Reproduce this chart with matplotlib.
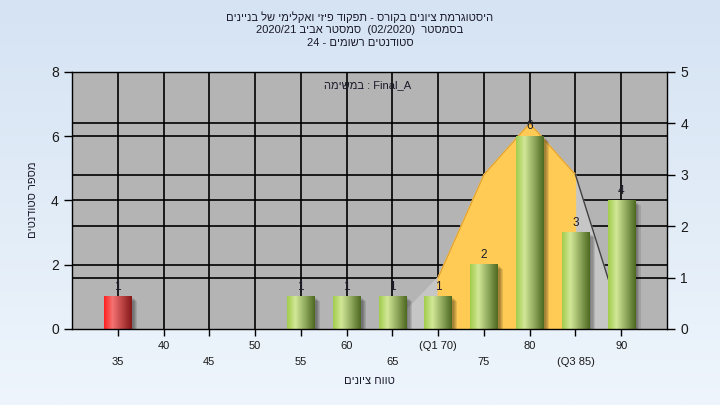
import re
import numpy as np
import matplotlib
matplotlib.use('Agg')
import matplotlib.pyplot as plt
from matplotlib.colors import LinearSegmentedColormap
from matplotlib.patches import Rectangle

# עברית - DejaVu/Liberation כוללים אותיות עבריות
plt.rcParams['font.family'] = ['Liberation Sans', 'DejaVu Sans']

# נתונים
grades = [35, 40, 45, 50, 55, 60, 65, 70, 75, 80, 85, 90]
tick_labels = ['35', '40', '45', '50', '55', '60', '65', '(Q1 70)', '75', '80', '(Q3 85)', '90']
counts = [1, 0, 0, 0, 1, 1, 1, 1, 2, 6, 3, 4]
failed = [True] + [False] * 11

# עקומת ההתפלגות (ציר ימני)
curve_x = [64.6, 70, 75, 80, 85, 90.3]
curve_y = [0, 1, 3, 4, 3, 0]
q1, q3 = 70, 85

left_max, right_max = 8, 5

title_lines = [
    'היסטוגרמת ציונים בקורס - תפקוד פיזי ואקלימי של בניינים',
    'בסמסטר  (02/2020)  סמסטר אביב 2020/21',
    'סטודנטים רשומים - 24',
]
task_label = 'Final_A : במשימה'
x_title = 'טווח ציונים'
y_title = 'מספר סטודנטים'


def rtl(s):
    # סידור ויזואלי פשוט לטקסט מימין לשמאל
    tokens = re.findall(r'[\u0590-\u05FF]+|[A-Za-z0-9_/.]+|.', s)
    mirror = {'(': ')', ')': '('}
    out = []
    for t in reversed(tokens):
        if re.match(r'[\u0590-\u05FF]', t):
            out.append(t[::-1])
        else:
            out.append(mirror.get(t, t))
    return ''.join(out)


fig = plt.figure(figsize=(7.2, 4.05), dpi=100)

# רקע מדורג
bg = fig.add_axes([0, 0, 1, 1], zorder=-10)
grad = np.linspace(0, 1, 256).reshape(-1, 1)
bg_cmap = LinearSegmentedColormap.from_list('bg', ['#d5e3f3', '#eef5fc'])
bg.imshow(grad, aspect='auto', cmap=bg_cmap, extent=[0, 1, 0, 1])
bg.axis('off')

ax = fig.add_axes([0.1, 0.1877, 0.8264, 0.6346])
ax.set_facecolor('#b4b4b4')
ax.set_xlim(30, 95)
ax.set_ylim(0, left_max)

ratio = left_max / right_max

# קווי רשת
for g in grades:
    ax.axvline(g, color='black', lw=1.2, zorder=0.5)
for v in [2, 4, 6]:
    ax.axhline(v, color='black', lw=1.2, zorder=0.5)
for v in [1, 2, 3, 4]:
    ax.axhline(v * ratio, color='black', lw=1.2, zorder=0.5)

# עקומה + אזור בין הרבעונים
cy = [v * ratio for v in curve_y]
ax.fill(curve_x + [curve_x[-1]], cy + [0], color='#c6c6c6', zorder=1)
qx = [x for x in curve_x if q1 <= x <= q3]
qy = [v * ratio for x, v in zip(curve_x, curve_y) if q1 <= x <= q3]
ax.fill([qx[0]] + qx + [qx[-1]], [0] + qy + [0], color='#ffcb55', zorder=1.2)
ax.plot(qx, qy, color='#e0a030', lw=0.8, zorder=1.3)
ax.plot(curve_x[-2:], cy[-2:], color='#404040', lw=1, zorder=1.3)

# עמודות עם מראה גלילי
green = LinearSegmentedColormap.from_list('g', [(0, '#a2cc4c'), (0.3, '#d2e898'), (1, '#4e6a22')])
red = LinearSegmentedColormap.from_list('r', [(0, '#ff2020'), (0.3, '#f47272'), (1, '#861818')])
bar_w = 3.0
shade = np.linspace(0, 1, 64).reshape(1, -1)
for g, c, f in zip(grades, counts, failed):
    if c == 0:
        continue
    x0 = g - bar_w / 2
    for k in range(4):
        ax.add_patch(Rectangle((x0 + 0.25 + k * 0.12, -0.05 - k * 0.03), bar_w, c,
                               color='black', alpha=0.1, lw=0, zorder=2))
    ax.imshow(shade, aspect='auto', cmap=red if f else green,
              extent=[x0, x0 + bar_w, 0, c], zorder=3)
    ax.text(g, c + 0.12, str(c), ha='center', va='bottom', fontsize=8.5,
            color='#1a1a2a', zorder=4)

ax.set_xlim(30, 95)
ax.set_ylim(0, left_max)

ax.set_xticks(grades)
ax.set_xticklabels([lbl if i % 2 else '\n' + lbl for i, lbl in enumerate(tick_labels)],
                   fontsize=8, color='#1a1a1a')
for t in ax.get_xticklabels():
    t.set_linespacing(1.7)
ax.set_yticks([0, 2, 4, 6, 8])
ax.tick_params(axis='y', labelsize=10, length=6, width=1, colors='black', labelcolor='#1a1a1a')
ax.tick_params(axis='x', length=5, width=1, pad=4)
for s in ax.spines.values():
    s.set_color('black')
    s.set_linewidth(1)
    s.set_zorder(5)

ax2 = ax.twinx()
ax2.set_ylim(0, right_max)
ax2.set_yticks(range(0, right_max + 1))
ax2.tick_params(axis='y', labelsize=10, length=6, width=1, labelcolor='#1a1a1a')
for s in ax2.spines.values():
    s.set_visible(False)

ax.text(0.497, 0.95, rtl(task_label), transform=ax.transAxes, ha='center', va='center',
        fontsize=8, color='#1a1a2a', zorder=6)

for i, line in enumerate(title_lines):
    fig.text(0.5, 1 - (17 + 13 * i) / 405, rtl(line), ha='center', va='center',
             fontsize=8, color='#1a1a2a')

fig.text(369 / 720, 1 - 381 / 405, rtl(x_title), ha='center', va='center', fontsize=8,
         color='#1a1a2a')
fig.text(33 / 720, 1 - 200 / 405, rtl(y_title), ha='center', va='center', fontsize=8,
         rotation=90, color='#1a1a2a')

fig.savefig('out.png', dpi=100)
